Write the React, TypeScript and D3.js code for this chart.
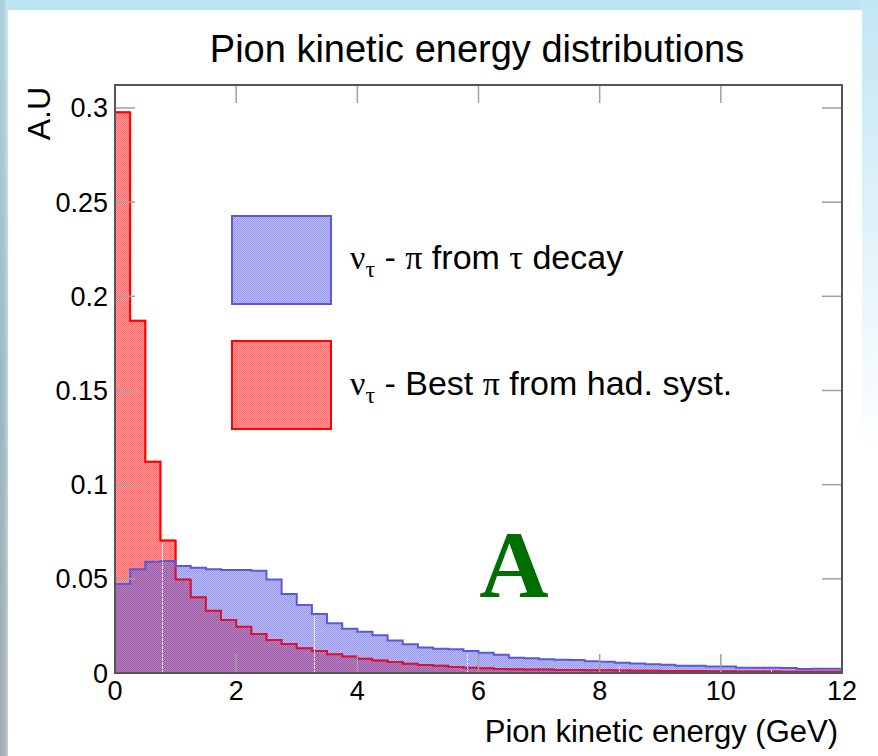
import React from "react";
import * as d3 from "d3";

// Histogram binning (GeV)
const binLow = 0;
const binHigh = 12;
const binWidth = 0.25;

// nu_tau: pion coming from the tau decay (normalised)
const tauDecayPion = [
  0.0473, 0.0551, 0.0591, 0.0595, 0.0568, 0.0559, 0.0551, 0.0547,
  0.0547, 0.0543, 0.0497, 0.0419, 0.0361, 0.0313, 0.0264, 0.0235,
  0.0219, 0.0200, 0.0172, 0.0152, 0.0136, 0.0129, 0.0126, 0.0117,
  0.0108, 0.0097, 0.0081, 0.0078, 0.0073, 0.0071, 0.0069, 0.0062,
  0.0060, 0.0055, 0.0051, 0.0046, 0.0044, 0.0039, 0.0039, 0.0035,
  0.0034, 0.0028, 0.0028, 0.0028, 0.0027, 0.0021, 0.0023, 0.0023,
];

// nu_tau: best pion from the hadronic system (normalised)
const hadronicBestPion = [
  0.2977, 0.1870, 0.1122, 0.0703, 0.0497, 0.0402, 0.0331, 0.0281,
  0.0246, 0.0207, 0.0175, 0.0154, 0.0131, 0.0117, 0.0099, 0.0087,
  0.0076, 0.0067, 0.0058, 0.0049, 0.0042, 0.0039, 0.0032, 0.0028,
  0.0025, 0.0021, 0.0020, 0.0019, 0.0018, 0.0016, 0.0016, 0.0015,
  0.0014, 0.0013, 0.0012, 0.0012, 0.0011, 0.0010, 0.0010, 0.0009,
  0.0009, 0.0008, 0.0008, 0.0008, 0.0007, 0.0007, 0.0006, 0.0006,
];

const xTickValues = [0, 2, 4, 6, 8, 10, 12];
const xTickLabels = ["0", "2", "4", "6", "8", "10", "12"];
const yTickValues = [0, 0.05, 0.1, 0.15, 0.2, 0.25, 0.3];
const yTickLabels = ["0", "0.05", "0.1", "0.15", "0.2", "0.25", "0.3"];
const yAxisMax = 0.3122;

const titleText = "Pion kinetic energy distributions";
const xTitleText = "Pion kinetic energy (GeV)";
const yTitleText = "A.U";
const panelLetter = "A";

const W = 878;
const H = 756;
const frame = { left: 115, right: 842, top: 85, bottom: 673 };

const SANS = "'Liberation Sans', Arial, Helvetica, sans-serif";
const SERIF = "'Liberation Serif', 'Times New Roman', Times, serif";

const BLUE = "#5a5ad8";
const BLUE_FILL = "rgb(85,85,225)";
const RED = "#ff0000";
const FRAME = "#555555";
const TICK = "#a0a0a0";

const x = d3.scaleLinear().domain([binLow, binHigh]).range([frame.left, frame.right]);
const y = d3.scaleLinear().domain([0, yAxisMax]).range([frame.bottom, frame.top]);

function stepPoints(values: number[]): [number, number][] {
  const pts: [number, number][] = [[x(binLow), y(0)]];
  values.forEach((v, i) => {
    const lo = binLow + i * binWidth;
    pts.push([x(lo), y(v)], [x(lo + binWidth), y(v)]);
  });
  pts.push([x(binHigh), y(0)]);
  return pts;
}

const line = d3.line<[number, number]>().x((d) => d[0]).y((d) => d[1]);

function valueAt(values: number[], gev: number) {
  const i = Math.floor((gev - binLow) / binWidth);
  return i >= 0 && i < values.length ? values[i] : 0;
}

// Fill-pattern tile seams (pixel columns)
const seamStart = 162;
const seamStep = 152.3;

type Cell = { fill: string; opacity: number };

function PatternTile({ id, cell }: { id: string; cell: (cx: number, cy: number) => Cell }) {
  const cells: React.ReactNode[] = [];
  for (let cy = 0; cy < 4; cy++) {
    for (let cx = 0; cx < 4; cx++) {
      const c = cell(cx, cy);
      cells.push(
        <rect key={`${cx}-${cy}`} x={cx} y={cy} width={1} height={1} fill={c.fill} fillOpacity={c.opacity} />
      );
    }
  }
  return (
    <pattern id={id} patternUnits="userSpaceOnUse" x={0} y={0} width={4} height={4} shapeRendering="crispEdges">
      {cells}
    </pattern>
  );
}

function LegendLabel({ x0, y0, parts }: { x0: number; y0: number; parts: { t: string; greek?: boolean; sub?: boolean }[] }) {
  return (
    <text x={x0} y={y0} fontFamily={SANS} fontSize={34} fill="#000" style={{ whiteSpace: "pre" }}>
      {parts.map((p, i) => {
        const prevSub = i > 0 && parts[i - 1].sub;
        const dy = p.sub ? 8 : prevSub ? -8 : 0;
        return (
          <tspan key={i} dy={dy} fontFamily={p.greek ? SERIF : SANS} fontSize={p.sub ? 24 : 34}>
            {p.t}
          </tspan>
        );
      })}
    </text>
  );
}

export default function App() {
  const bluePts = stepPoints(tauDecayPion);
  const redPts = stepPoints(hadronicBestPion);
  const redPath = line(redPts) ?? "";
  const bluePath = line(bluePts) ?? "";

  const seams: number[] = [];
  for (let sx = seamStart; sx < frame.right; sx += seamStep) seams.push(Math.round(sx) + 0.5);

  return (
    <svg
      width={W}
      height={H}
      style={{ position: "absolute", left: 0, top: 0, display: "block" }}
      xmlns="http://www.w3.org/2000/svg"
    >
      <defs>
        <linearGradient id="bgGrad" x1="0" y1="0" x2="0" y2="1">
          <stop offset="0" stopColor="#bde5f4" />
          <stop offset="0.5" stopColor="#a9cbd8" />
          <stop offset="1" stopColor="#b3bec2" />
        </linearGradient>
        <linearGradient id="rightGrad" x1="0" y1="0" x2="0" y2="1">
          <stop offset="0" stopColor="#c2e6f4" />
          <stop offset="0.6" stopColor="#ffffff" />
          <stop offset="1" stopColor="#ffffff" />
        </linearGradient>
        <linearGradient id="leftShade" x1="0" y1="0" x2="1" y2="0">
          <stop offset="0" stopColor="#000" stopOpacity="0.08" />
          <stop offset="1" stopColor="#fff" stopOpacity="0.25" />
        </linearGradient>
        {/* translucent blue dot hatch, drawn over the red one */}
        <PatternTile
          id="bluePat"
          cell={(cx, cy) => ({ fill: BLUE_FILL, opacity: (cx + cy) % 2 === 0 ? 0.58 : 0.42 })}
        />
        <PatternTile
          id="redPat"
          cell={(cx, cy) => ({ fill: (cx + cy) % 2 === 0 ? "#ff6a6a" : "#ff9c9c", opacity: 1 })}
        />
        <clipPath id="frameClip">
          <rect x={frame.left} y={frame.top} width={frame.right - frame.left} height={frame.bottom - frame.top} />
        </clipPath>
      </defs>

      {/* page background and white canvas */}
      <rect x={0} y={0} width={W} height={H} fill="url(#bgGrad)" />
      <rect x={0} y={0} width={8} height={H} fill="url(#leftShade)" />
      <rect x={8} y={10} width={854} height={H - 10} fill="#ffffff" />
      <rect x={862} y={0} width={W - 862} height={H} fill="url(#rightGrad)" />

      {/* title */}
      <text x={477} y={62} textAnchor="middle" fontFamily={SANS} fontSize={38} fill="#000">
        {titleText}
      </text>

      {/* histograms */}
      <g clipPath="url(#frameClip)">
        <path d={redPath} fill="url(#redPat)" stroke="none" />
        <path d={redPath} fill="none" stroke={RED} strokeWidth={2} />
        <path d={bluePath} fill="url(#bluePat)" stroke="none" />
        {/* red outline showing through the blue hatch */}
        <path d={redPath} fill="none" stroke={RED} strokeWidth={2} strokeDasharray="2 1" opacity={0.75} />
        <path d={bluePath} fill="none" stroke={BLUE} strokeWidth={2} />
        {seams.map((sx) => {
          const gev = x.invert(sx);
          const top = Math.max(valueAt(tauDecayPion, gev), valueAt(hadronicBestPion, gev));
          return (
            <line
              key={sx}
              x1={sx}
              x2={sx}
              y1={frame.bottom}
              y2={y(top) + 2}
              stroke="#ffffff"
              strokeWidth={1}
              strokeDasharray="3 1"
              opacity={0.8}
            />
          );
        })}
      </g>

      {/* ticks on all four sides */}
      <g stroke={TICK} strokeWidth={1.5}>
        {xTickValues.map((v) => (
          <g key={`xt${v}`}>
            <line x1={x(v)} x2={x(v)} y1={frame.bottom} y2={frame.bottom - 19} />
            <line x1={x(v)} x2={x(v)} y1={frame.top} y2={frame.top + 18} />
          </g>
        ))}
        {yTickValues.map((v) => (
          <g key={`yt${v}`}>
            <line x1={frame.left} x2={frame.left + 20} y1={y(v)} y2={y(v)} />
            <line x1={frame.right} x2={frame.right - 20} y1={y(v)} y2={y(v)} />
          </g>
        ))}
      </g>

      {/* frame */}
      <rect
        x={frame.left}
        y={frame.top}
        width={frame.right - frame.left}
        height={frame.bottom - frame.top}
        fill="none"
        stroke={FRAME}
        strokeWidth={2}
      />

      {/* tick labels */}
      {xTickValues.map((v, i) => (
        <text key={`xl${v}`} x={x(v)} y={700} textAnchor="middle" fontFamily={SANS} fontSize={27} fill="#000">
          {xTickLabels[i]}
        </text>
      ))}
      {yTickValues.map((v, i) => (
        <text
          key={`yl${v}`}
          x={108}
          y={y(v) + 9.5}
          textAnchor="end"
          fontFamily={SANS}
          fontSize={27}
          fill="#000"
        >
          {yTickLabels[i]}
        </text>
      ))}

      {/* axis titles */}
      <text x={838} y={742} textAnchor="end" fontFamily={SANS} fontSize={31} fill="#000">
        {xTitleText}
      </text>
      <text
        transform="translate(50,87) rotate(-90)"
        textAnchor="end"
        fontFamily={SANS}
        fontSize={32}
        fill="#000"
      >
        {yTitleText}
      </text>

      {/* legend */}
      <rect x={232} y={216} width={99} height={88} fill="url(#bluePat)" stroke={BLUE} strokeWidth={2} />
      <rect x={232} y={341} width={99} height={88} fill="url(#redPat)" stroke={RED} strokeWidth={2} />
      <LegendLabel
        x0={350}
        y0={269}
        parts={[
          { t: "ν", greek: true },
          { t: "τ", greek: true, sub: true },
          { t: " - " },
          { t: "π", greek: true },
          { t: " from " },
          { t: "τ", greek: true },
          { t: " decay" },
        ]}
      />
      <LegendLabel
        x0={350}
        y0={395}
        parts={[
          { t: "ν", greek: true },
          { t: "τ", greek: true, sub: true },
          { t: " - Best " },
          { t: "π", greek: true },
          { t: " from had. syst." },
        ]}
      />

      {/* panel letter */}
      <text x={514} y={597} textAnchor="middle" fontFamily={SERIF} fontWeight="bold" fontSize={96} fill="#006e00">
        {panelLetter}
      </text>
    </svg>
  );
}
